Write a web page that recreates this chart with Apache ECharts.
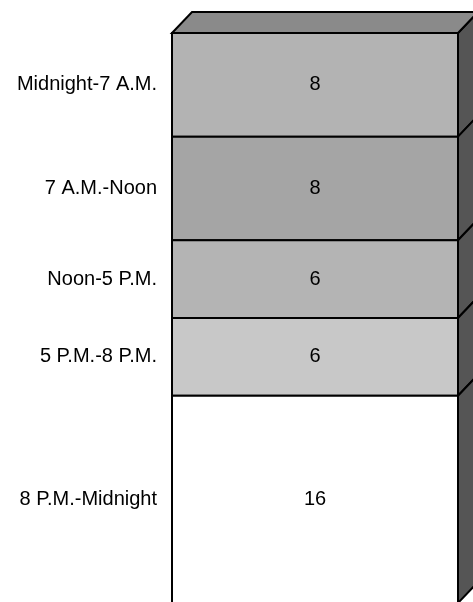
<!DOCTYPE html>
<html>
<head>
<meta charset="utf-8">
<title>Time periods</title>
<script src="https://cdn.jsdelivr.net/npm/echarts@6/dist/echarts.min.js"></script>
<style>
  html, body { margin: 0; padding: 0; background: #fff; }
  #main { width: 473px; height: 602px; }
</style>
</head>
<body>
<div id="main"></div>
<script>
// segments, top to bottom
var periods = ['Midnight-7 A.M.', '7 A.M.-Noon', 'Noon-5 P.M.', '5 P.M.-8 P.M.', '8 P.M.-Midnight'];
var counts = [8, 8, 6, 6, 16];

var shades = ['#b3b3b3', '#a5a5a5', '#b4b4b4', '#c8c8c8', '#ffffff'];
var DX = 20, DY = 21;   // depth of the 3d box
var FONT = '20px "Liberation Sans", Arial, sans-serif';

// stack from the bottom: last period sits on the axis
var segData = counts.map(function (c, i) {
  var base = 0;
  for (var j = i + 1; j < counts.length; j++) base += counts[j];
  return [0, base, base + c, i];
});
var total = counts.reduce(function (a, b) { return a + b; }, 0);

function renderSegment(params, api) {
  var lo = api.coord([api.value(0), api.value(1)]);
  var hi = api.coord([api.value(0), api.value(2)]);
  var w = api.size([1, 0])[0];
  var x0 = lo[0] - w / 2, x1 = lo[0] + w / 2;
  var yb = lo[1], yt = hi[1];
  var idx = api.value(3);
  var kids = [
    { type: 'polygon',
      shape: { points: [[x1, yt], [x1 + DX, yt - DY], [x1 + DX, yb - DY], [x1, yb]] },
      style: { fill: '#555', stroke: '#000', lineWidth: 2 } },
    { type: 'rect',
      shape: { x: x0, y: yt, width: w, height: yb - yt },
      style: { fill: shades[idx], stroke: '#000', lineWidth: 2 } },
    { type: 'text',
      style: { text: String(counts[idx]), x: lo[0], y: (yt + yb) / 2,
               align: 'center', verticalAlign: 'middle', font: FONT, fill: '#000' } },
    { type: 'text',
      style: { text: periods[idx], x: x0 - 15, y: (yt + yb) / 2,
               align: 'right', verticalAlign: 'middle', font: FONT, fill: '#000' } }
  ];
  if (idx === 0) {
    kids.push({ type: 'polygon',
      shape: { points: [[x0, yt], [x0 + DX, yt - DY], [x1 + DX, yt - DY], [x1, yt]] },
      style: { fill: '#8a8a8a', stroke: '#000', lineWidth: 2 } });
  }
  return { type: 'group', children: kids };
}

var chart = echarts.init(document.getElementById('main'));
chart.setOption({
  backgroundColor: '#fff',
  animation: false,
  grid: { left: 172, width: 286, top: 33, height: 570, outerBoundsMode: 'none' },
  xAxis: { type: 'category', data: [''], show: false },
  yAxis: { type: 'value', min: 0, max: total, show: false },
  series: [{
    type: 'custom',
    clip: false,
    renderItem: renderSegment,
    data: segData
  }]
});
</script>
</body>
</html>
